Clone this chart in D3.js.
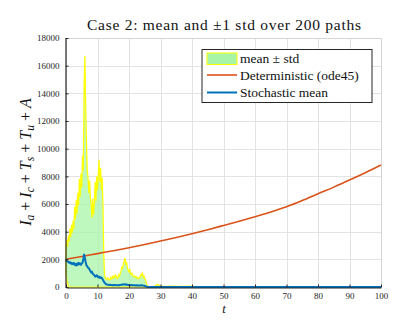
<!DOCTYPE html>
<html>
<head>
<meta charset="utf-8">
<script src="https://cdn.jsdelivr.net/npm/d3@7"></script>
<style>
  html, body { margin: 0; padding: 0; background: #fff; }
  svg { display: block; }
  svg text { font-family: 'Liberation Serif', 'DejaVu Serif', serif; }
</style>
</head>
<body>
<div id="chart"></div>
<script>
// ── DATA ──────────────────────────────────────────────────────────
const xTicks = [0, 10, 20, 30, 40, 50, 60, 70, 80, 90, 100];
const yTicks = [0, 2000, 4000, 6000, 8000, 10000, 12000, 14000, 16000, 18000];

// deterministic ode45 solution
const tDet   = [0, 5, 10, 15, 20, 25, 30, 35, 40, 45, 50, 55, 60, 65, 70, 75, 80, 85, 90, 95, 100];
const detVal = [2000, 2205, 2415, 2620, 2835, 3070, 3320, 3580, 3855, 4145, 4450, 4760, 5080,
                5420, 5800, 6250, 6740, 7220, 7730, 8260, 8820];

// stochastic time grid
const tStoch = [
  0, 0.25, 0.5, 0.75, 1, 1.25, 1.5, 1.75, 2, 2.25, 2.5, 2.75, 3, 3.25, 3.5, 3.75,
  4, 4.25, 4.5, 4.75, 5, 5.25, 5.5, 5.75, 6, 6.25, 6.5, 6.75, 7, 7.25, 7.5, 7.75,
  8, 8.25, 8.5, 8.75, 9, 9.25, 9.5, 9.75, 10, 10.25, 10.5, 10.75, 11, 11.25, 11.5, 11.75,
  12, 12.25, 12.5, 12.75, 13, 13.25, 13.5, 13.75, 14, 14.25, 14.5, 14.75, 15, 15.25, 15.5, 15.75,
  16, 16.25, 16.5, 16.75, 17, 17.25, 17.5, 17.75, 18, 18.25, 18.5, 18.75, 19, 19.25, 19.5, 19.75,
  20, 20.25, 20.5, 20.75, 21, 21.25, 21.5, 21.75, 22, 22.25, 22.5, 22.75, 23, 23.25, 23.5, 23.75,
  24, 24.25, 24.5, 24.75, 25, 25.25, 25.5, 25.75, 26, 26.25, 26.5, 26.75, 27, 27.25, 27.5, 27.75,
  28, 28.25, 28.5, 28.75, 29, 29.25, 29.5, 29.75, 30,
  31, 32, 34, 36, 38, 40, 41, 42, 50, 60, 70, 80, 90, 100
];

// mean + std (upper band edge)
const meanPlusStd = [
  3000, 3400, 2900, 3700,  3300, 4200, 3600, 4500,  3900, 4800, 4200, 5800,  4900, 6300, 5300, 6800,
  5900, 7800, 6500, 8200,  7200, 9500, 8400, 14600, 16700, 13000, 10500, 8400, 7900, 6800, 7700, 6500,
  5900, 5000, 6400, 5200,  6000, 7600, 6200, 8000,  7000, 8200, 9200, 7600,  8600, 7000, 7900, 5800,
  2200, 900, 650, 600,     550, 650, 600, 500,      550, 700, 600, 750,      650, 800, 700, 850,
  750, 600, 700, 900,      800, 1000, 1200, 1500,   1300, 1700, 1900, 2100,  1600, 1800, 1400, 1200,
  1100, 1300, 950, 900,    1000, 800, 750, 800,     700, 750, 650, 700,      600, 650, 700, 900,
  850, 1000, 700, 800,     600, 550, 300, 100,      50, 30, 20, 20,          20, 30, 30, 40,
  40, 60, 80, 150,         200, 180, 120, 60,       40,
  50, 40, 60, 40, 50, 60, 20, 0, 0, 0, 0, 0, 0, 0
];

// stochastic mean
const stochMean = [
  2000, 1900, 1850, 1800,  1750, 1800, 1700, 1750,  1650, 1700, 1750, 1600,  1650, 1550, 1700, 1600,
  1750, 1650, 1700, 1600,  1700, 1750, 2000, 2350,  2100, 1800, 1550, 1500,  1400, 1350, 1250, 1150,
  1050, 1100, 950, 900,    850, 750, 800, 850,      750, 700, 750, 650,      700, 680, 600, 500,
  400, 300, 250, 200,      180, 170, 160, 150,      160, 140, 150, 130,      140, 130, 150, 140,
  120, 130, 120, 140,      130, 150, 160, 180,      170, 190, 180, 200,      170, 180, 160, 150,
  140, 150, 130, 140,      120, 130, 120, 120,      110, 120, 110, 120,      110, 100, 110, 120,
  110, 120, 100, 90,       80, 60, 30, 15,          8, 5, 5, 5,              5, 5, 5, 5,
  5, 5, 5, 5,              5, 5, 5, 5,              5,
  5, 5, 5, 5, 5, 5, 5, 5, 5, 5, 5, 5, 5, 5
];

// mean - std (lower band edge, clipped at zero)
const tLower       = [0, 0.25, 0.5, 0.75, 100];
const meanMinusStd = [1000, 600, 300, 0, 0];

const legendLabels = ['mean \u00b1 std', 'Deterministic (ode45)', 'Stochastic mean'];

// ── LAYOUT ────────────────────────────────────────────────────────
const W = 420, H = 322;
const plot = { left: 66, right: 381, top: 38, bottom: 287 };
const AX = '#262626', GRID = '#e3e3e3';
const RED = '#d95319', BLUE = '#0072bd', YEL = '#ffff00', GREEN = '#a8f5a8';

const svg = d3.select('#chart').append('svg')
  .attr('width', W).attr('height', H);

const x = d3.scaleLinear().domain([0, 100]).range([plot.left, plot.right]);
const y = d3.scaleLinear().domain([0, 18000]).range([plot.bottom, plot.top]);

// grid
const grid = svg.append('g').attr('stroke', GRID).attr('stroke-width', 1);
xTicks.forEach(t => grid.append('line')
  .attr('x1', Math.round(x(t)) + 0.5).attr('x2', Math.round(x(t)) + 0.5)
  .attr('y1', plot.top).attr('y2', plot.bottom));
yTicks.forEach(t => grid.append('line')
  .attr('y1', Math.round(y(t)) + 0.5).attr('y2', Math.round(y(t)) + 0.5)
  .attr('x1', plot.left).attr('x2', plot.right));

// ── BAND ──────────────────────────────────────────────────────────
const upperPts = tStoch.map((t, i) => [x(t), y(meanPlusStd[i])]);
const lowerPts = tLower.map((t, i) => [x(t), y(meanMinusStd[i])]).reverse();

svg.append('path')
  .attr('d', d3.line()(upperPts.concat(lowerPts)) + 'Z')
  .attr('fill', GREEN)
  .attr('fill-opacity', 0.75)
  .attr('stroke', YEL)
  .attr('stroke-width', 1.2)
  .attr('stroke-linejoin', 'miter');

// deterministic
svg.append('path')
  .datum(tDet.map((t, i) => [t, detVal[i]]))
  .attr('d', d3.line().x(d => x(d[0])).y(d => y(d[1])).curve(d3.curveMonotoneX))
  .attr('fill', 'none')
  .attr('stroke', RED)
  .attr('stroke-width', 1.6);

// stochastic mean
svg.append('path')
  .datum(tStoch.map((t, i) => [t, stochMean[i]]))
  .attr('d', d3.line().x(d => x(d[0])).y(d => y(d[1])))
  .attr('fill', 'none')
  .attr('stroke', BLUE)
  .attr('stroke-width', 2)
  .attr('stroke-linejoin', 'round');

// ── AXES ──────────────────────────────────────────────────────────
const fmt = d3.format('d');
const xAxis = d3.axisBottom(x).tickValues(xTicks).tickFormat(fmt)
  .tickSizeInner(-3).tickSizeOuter(0).tickPadding(5);
const yAxis = d3.axisLeft(y).tickValues(yTicks).tickFormat(fmt)
  .tickSizeInner(-3).tickSizeOuter(0).tickPadding(6);

// light box on top / right
svg.append('path')
  .attr('d', `M${plot.left},${plot.top + 0.5}H${plot.right + 0.5}V${plot.bottom}`)
  .attr('fill', 'none').attr('stroke', '#d4d4d4');

const gx = svg.append('g').attr('transform', `translate(0,${plot.bottom + 0.5})`).call(xAxis);
const gy = svg.append('g').attr('transform', `translate(${plot.left - 0.5},0)`).call(yAxis);
[gx, gy].forEach(g => {
  g.attr('font-family', null);
  g.select('.domain').attr('stroke', AX).attr('stroke-width', 1.2);
  g.selectAll('.tick line').attr('stroke', AX);
  g.selectAll('.tick text')
    .attr('fill', AX)
    .style('font-family', "'Liberation Serif', serif")
    .style('font-size', '9px');
});

// ── TEXT ──────────────────────────────────────────────────────────
svg.append('text')
  .attr('x', 224).attr('y', 30)
  .attr('text-anchor', 'middle')
  .attr('font-size', 15.5)
  .attr('textLength', 274)
  .attr('lengthAdjust', 'spacing')
  .attr('fill', '#111')
  .text('Case 2: mean and \u00b11 std over 200 paths');

svg.append('text')
  .attr('x', 224).attr('y', 313)
  .attr('text-anchor', 'middle')
  .attr('font-size', 12.5)
  .attr('font-style', 'italic')
  .attr('fill', '#111')
  .text('t');

// y label: I_a + I_c + T_s + T_u + A
const ylab = svg.append('text')
  .attr('transform', 'translate(31,162) rotate(-90)')
  .attr('text-anchor', 'middle')
  .attr('font-size', 16)
  .attr('fill', '#111');
const parts = [['I', 'a'], ['I', 'c'], ['T', 's'], ['T', 'u'], ['A', null]];
parts.forEach((p, i) => {
  if (i > 0) ylab.append('tspan').attr('dy', parts[i - 1][1] ? -3 : 0).text(' + ');
  ylab.append('tspan').attr('font-style', 'italic').text(p[0]);
  if (p[1]) ylab.append('tspan').attr('font-style', 'italic').attr('font-size', 11.5).attr('dy', 3).text(p[1]);
});

// ── LEGEND ────────────────────────────────────────────────────────
const lg = svg.append('g');
lg.append('rect')
  .attr('x', 202).attr('y', 49.5).attr('width', 170).attr('height', 53)
  .attr('fill', '#fff').attr('stroke', AX).attr('stroke-width', 1);
const rowY = [58.5, 75, 92.5];
lg.append('rect')
  .attr('x', 207).attr('y', rowY[0] - 5.5).attr('width', 30).attr('height', 11.5)
  .attr('fill', GREEN).attr('stroke', YEL).attr('stroke-width', 1);
lg.append('line').attr('x1', 207).attr('x2', 237).attr('y1', rowY[1]).attr('y2', rowY[1])
  .attr('stroke', RED).attr('stroke-width', 1.6);
lg.append('line').attr('x1', 207).attr('x2', 237).attr('y1', rowY[2]).attr('y2', rowY[2])
  .attr('stroke', BLUE).attr('stroke-width', 2);
legendLabels.forEach((s, i) => {
  lg.append('text')
    .attr('x', 240).attr('y', rowY[i] + 4.5)
    .attr('font-size', 13.5)
    .attr('fill', '#111')
    .text(s);
});
</script>
</body>
</html>
